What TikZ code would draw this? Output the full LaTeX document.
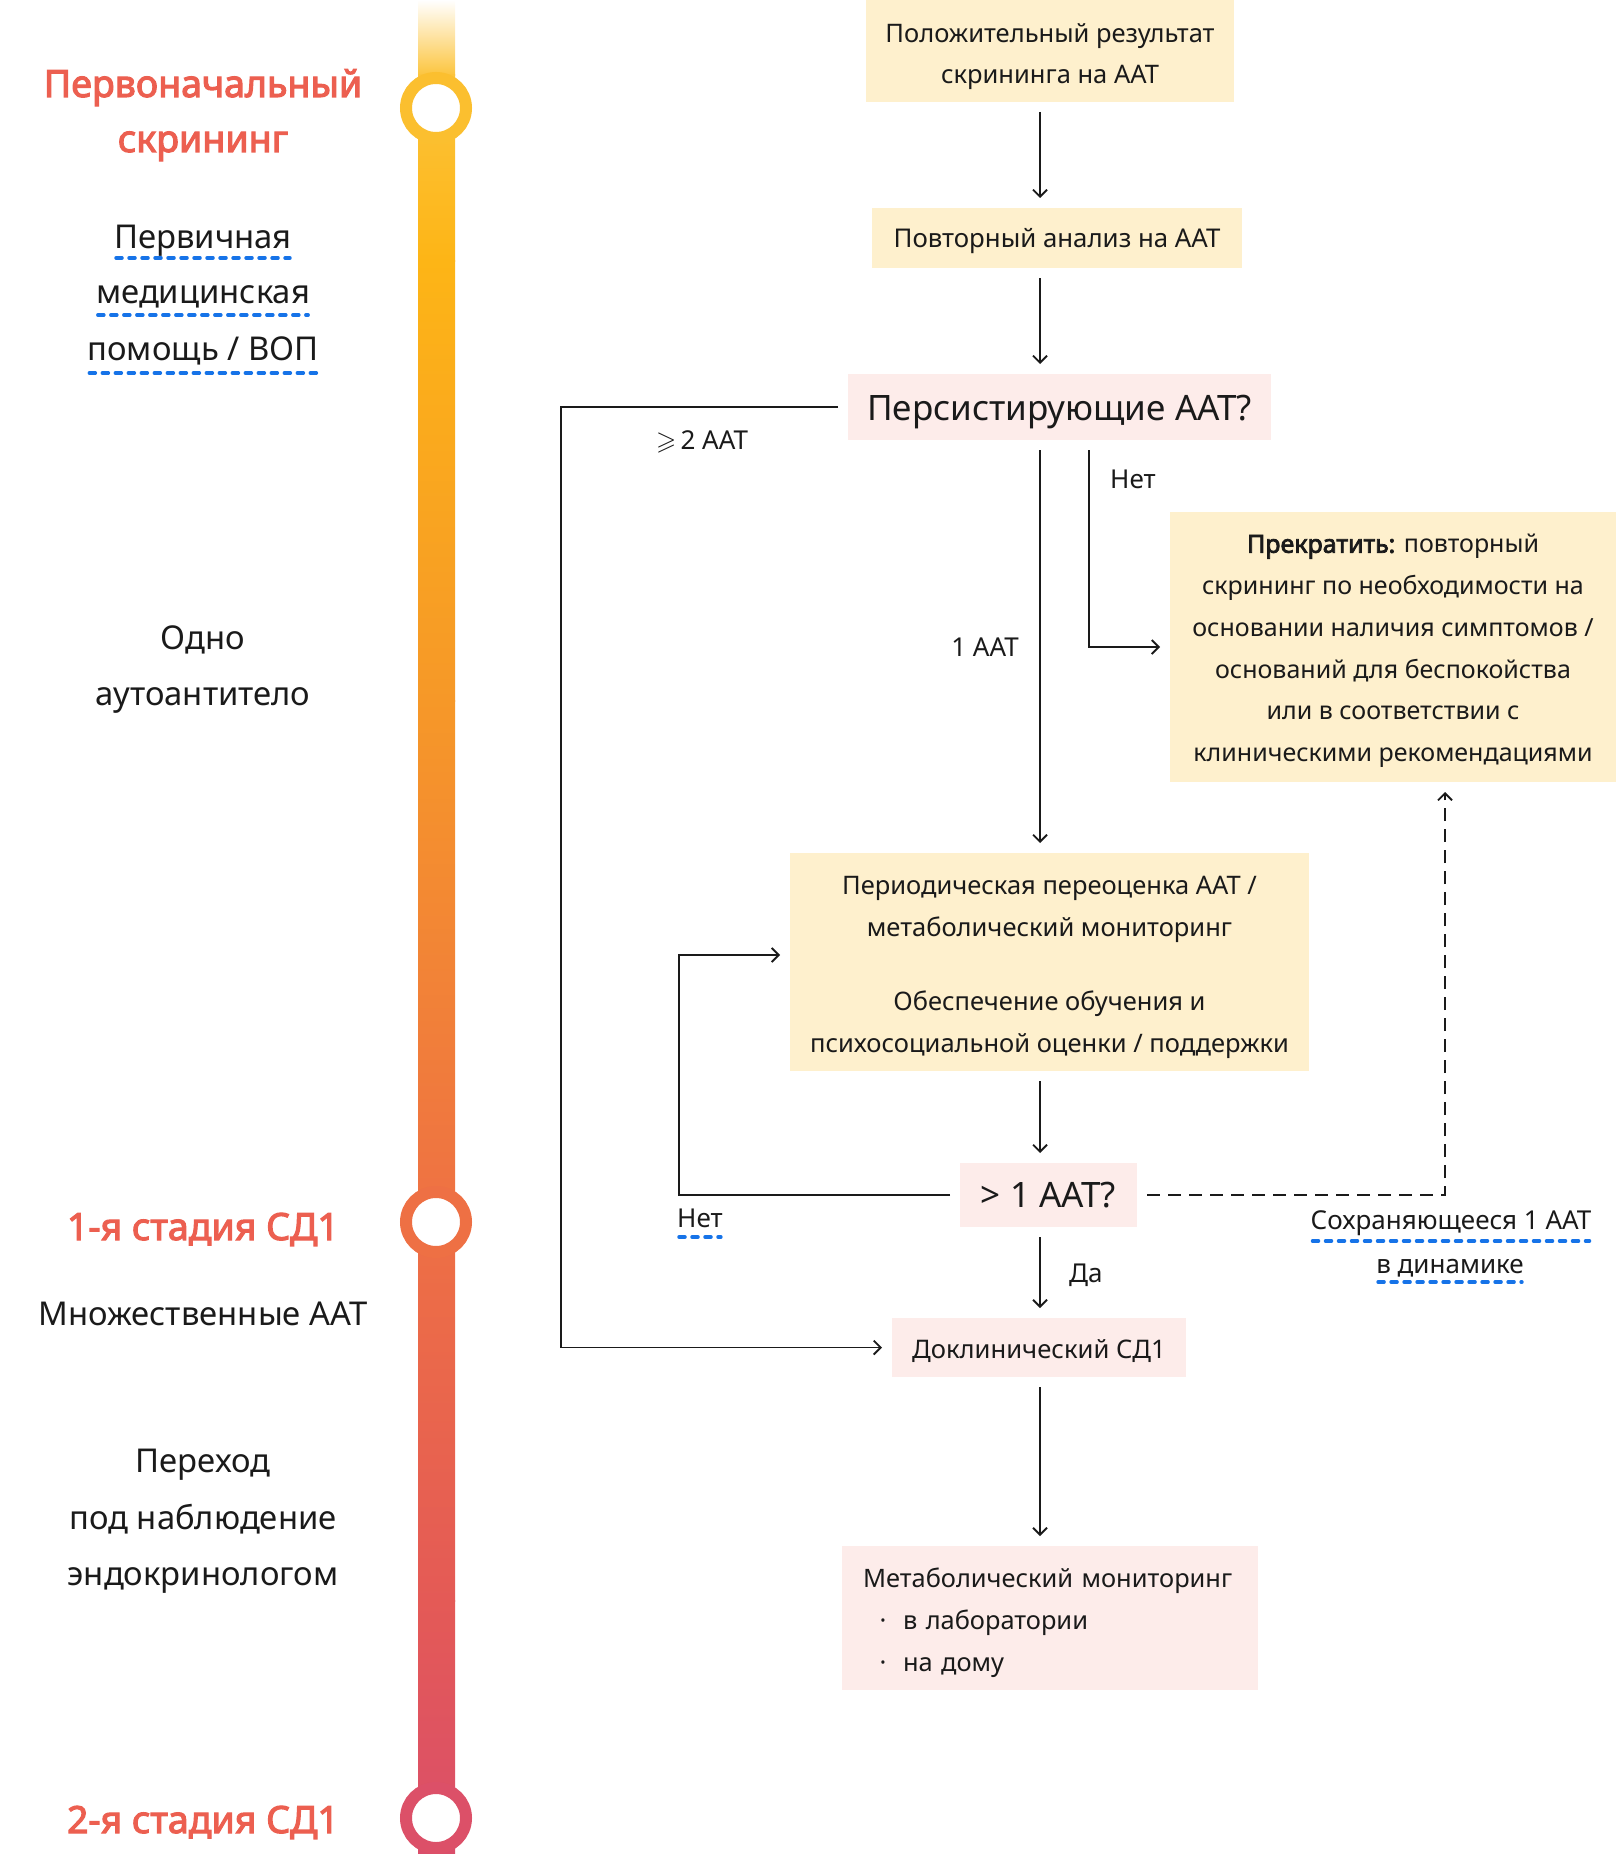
\documentclass[tikz,border=0pt]{standalone}
\usepackage{amssymb}
\usepackage{fontspec}
\setmainfont{Noto Sans}
\newfontfamily\boldfont{Noto Sans}[FakeBold=3]
\usetikzlibrary{arrows.meta,calc}
\definecolor{beige}{RGB}{254,240,205}
\definecolor{boxpink}{RGB}{253,236,234}
\definecolor{headred}{RGB}{236,95,80}
\definecolor{ulblue}{RGB}{22,115,232}
\definecolor{ink}{RGB}{26,26,26}
\definecolor{c0}{RGB}{252,196,60}
\definecolor{c1}{RGB}{253,181,22}
\definecolor{c2}{RGB}{246,152,40}
\definecolor{c3}{RGB}{238,112,68}
\definecolor{c4}{RGB}{228,90,86}
\definecolor{c5}{RGB}{218,78,106}
\definecolor{ring1}{RGB}{251,191,47}
\definecolor{ring2}{RGB}{238,112,68}
\definecolor{ring3}{RGB}{220,80,104}
\tikzset{
  box/.style={inner sep=0pt, outer sep=10pt},
  beigebox/.style={box, fill=beige},
  pinkbx/.style={box, fill=boxpink},
  txt/.style={inner sep=0pt, align=center, text=ink},
  arr/.style={draw=ink, line width=1.8pt, -{Straight Barb[length=7pt,width=14pt]}},
  dasharr/.style={arr, dash pattern=on 13pt off 8pt},
  ul/.style={draw=ulblue, line width=3.5pt, line cap=round, dash pattern=on 6pt off 7pt},
  lbl/.style={font=\fontsize{26}{30}\selectfont, text=ink, inner sep=0pt, anchor=base},
  head/.style={font=\fontsize{37.5}{42}\selectfont\boldfont, text=headred, inner sep=0pt, anchor=base},
  side/.style={font=\fontsize{32.8}{40}\selectfont, text=ink, inner sep=0pt, anchor=base},
  ringstyle/.style={line width=12pt, fill=white},
}
\begin{document}
\begin{tikzpicture}[x=1pt,y=-1pt]
\useasboundingbox (0,0) rectangle (1616,1854);
% timeline bar
\shade[top color=white, bottom color=c0] (418,0) rectangle (455,76);
\shade[top color=c0, bottom color=c1] (418,75) rectangle (455,261);
\shade[top color=c1, bottom color=c2] (418,260) rectangle (455,701);
\shade[top color=c2, bottom color=c3] (418,700) rectangle (455,1223);
\shade[top color=c3, bottom color=c4] (418,1222) rectangle (455,1601);
\shade[top color=c4, bottom color=c5] (418,1600) rectangle (455,1854);
\draw[ringstyle, draw=ring1] (436,108) circle[radius=30pt];
\draw[ringstyle, draw=ring2] (436,1222) circle[radius=30pt];
\draw[ringstyle, draw=ring3] (436,1818) circle[radius=30pt];
% left column
\node[head] (h1) at (203,97) {Первоначальный};
\node[head] (h2) at (203,152) {скрининг};
\node[side] (s1) at (203,248) {Первичная};
\node[side] (s2) at (203,303) {медицинская};
\node[side] (s3) at (203,360) {помощь / ВОП};
\draw[ul] ($(s1.base west)+(2,10)$) -- ($(s1.base east)+(-2,10)$);
\draw[ul] ($(s2.base west)+(2,12)$) -- ($(s2.base east)+(-2,12)$);
\draw[ul] ($(s3.base west)+(2,13)$) -- ($(s3.base east)+(-2,13)$);
\node[side] (s4) at (203,649) {Одно};
\node[side] (s5) at (203,705) {аутоантитело};
\node[head] (h3) at (203,1240) {1-я стадия СД1};
\node[side] (s6) at (203,1325) {Множественные ААТ};
\node[side] (s7) at (203,1472) {Переход};
\node[side] (s8) at (203,1529) {под наблюдение};
\node[side] (s9) at (203,1585) {эндокринологом};
\node[head] (h4) at (203,1833) {2-я стадия СД1};
% flowchart boxes
\coordinate (X) at (1040,0);
\coordinate (N) at (1089,0);
\coordinate (L) at (561,0);
\coordinate (L2) at (679,955);
\coordinate (R) at (1445,0);
\node[beigebox, minimum width=368pt, minimum height=102pt] (A) at (1050,51) {};
\node[beigebox, minimum width=370pt, minimum height=60pt] (B) at (1057,238) {};
\node[pinkbx, minimum width=423pt, minimum height=66pt] (C) at (1059.5,407) {};
\node[beigebox, minimum width=446pt, minimum height=270pt] (D) at (1393,647) {};
\node[beigebox, minimum width=519pt, minimum height=218pt] (E) at (1049.5,962) {};
\node[pinkbx, minimum width=177pt, minimum height=64pt] (F) at (1048.5,1195) {};
\node[pinkbx, minimum width=294pt, minimum height=59pt] (G) at (1039,1347.5) {};
\node[pinkbx, minimum width=416pt, minimum height=144pt] (H) at (1050,1618) {};
% box texts
\node[txt, font=\fontsize{25.5}{41}\selectfont] (At) at ($(A.center)+(0,5.3)$) {Положительный результат\\скрининга на ААТ};
\node[txt, font=\fontsize{25.8}{30}\selectfont] (Bt) at ($(B.center)+(0,3.5)$) {Повторный анализ на ААТ};
\node[txt, font=\fontsize{35}{40}\selectfont] (Ct) at ($(C.center)+(0,4.7)$) {Персистирующие ААТ?};
\node[txt, font=\fontsize{25}{41.8}\selectfont] (Dt) at ($(D.center)+(0,4)$) {{\boldfont Прекратить:} повторный\\скрининг по необходимости на\\основании наличия симптомов /\\оснований для беспокойства\\или в соответствии с\\клиническими рекомендациями};
\node[txt, font=\fontsize{25.5}{42.5}\selectfont] (Et) at ($(E.center)+(0,5.3)$) {Периодическая переоценка ААТ /\\метаболический мониторинг\\[31pt]Обеспечение обучения и\\психосоциальной оценки / поддержки};
\node[txt, font=\fontsize{35}{40}\selectfont] (Ft) at (F.center) {> 1 ААТ?};
\node[txt, font=\fontsize{25.6}{30}\selectfont] (Gt) at ($(G.center)+(0,3.5)$) {Доклинический СД1};
\node[txt, text width=374pt, align=left, font=\fontsize{25.4}{42}\selectfont] (Ht) at ($(H.center)+(0,4.7)$) {Метаболический мониторинг\\\makebox[40pt][c]{·}в лаборатории\\\makebox[40pt][c]{·}на дому};
% connectors
\draw[arr] (A.south -| X) -- (B.north -| X);
\draw[arr] (B.south -| X) -- (C.north -| X);
\draw[arr] (C.south -| X) -- (E.north -| X);
\draw[arr] (C.south -| N) |- (D.west);
\draw[arr] (C.west) -| (L |- G.west) -- (G.west);
\draw[arr] (E.south -| X) -- (F.north -| X);
\draw[arr] (F.west) -| (L2) -- (E.west |- L2);
\draw[arr] (F.south -| X) -- (G.north -| X);
\draw[dasharr] (F.east) -| (D.south -| R);
\draw[arr] (G.south -| X) -- (H.north -| X);
% labels
\node[lbl] (l1) at (702,449) {$\geqslant$\,2 ААТ};
\node[lbl, anchor=base west] (l2) at (1110,488) {Нет};
\node[lbl] (l3) at (985,656) {1 ААТ};
\node[lbl, anchor=base west] (l4) at (677,1227) {Нет};
\draw[ul] ($(l4.base west)+(2,10)$) -- ($(l4.base east)+(-2,10)$);
\node[lbl, anchor=base west] (l5) at (1069,1282) {Да};
\node[lbl] (l6) at (1451,1229) {Сохраняющееся 1 ААТ};
\draw[ul] ($(l6.base west)+(2,12)$) -- ($(l6.base east)+(-2,12)$);
\node[lbl] (l7) at (1450,1273) {в динамике};
\draw[ul] ($(l7.base west)+(2,9)$) -- ($(l7.base east)+(-2,9)$);
\end{tikzpicture}
\end{document}
